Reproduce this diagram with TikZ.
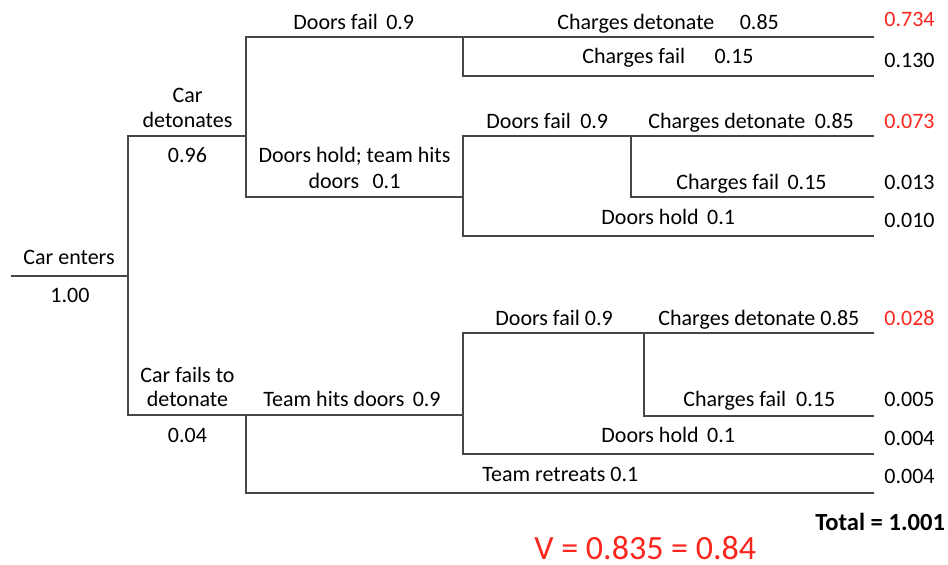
\documentclass[tikz,border=0pt]{standalone}
\usepackage{fontspec}
\setmainfont{Carlito}
\definecolor{outred}{RGB}{250,38,30}
\definecolor{branch}{RGB}{70,70,70}
\tikzset{
  branchline/.style={draw=branch, line width=1pt},
  lbl/.style={inner sep=0pt, font=\fontsize{11}{13}\selectfont, text=black},
  lblw/.style={lbl, anchor=base west},
  lblc/.style={lbl, anchor=base},
  outcome/.style={lblw},
  hot/.style={lblw, text=outred}
}
\begin{document}
\begin{tikzpicture}[x=0.5pt,y=-0.5pt]
\useasboundingbox (0,0) rectangle (948,565);

% ---- branch points ----
\coordinate (r0) at (11,276);  \coordinate (r1) at (128,276);
\coordinate (a0) at (128,136); \coordinate (a1) at (246,136);
\coordinate (b0) at (128,415); \coordinate (b1) at (246,415);
% car detonates subtree
\coordinate (c0) at (246,37);  \coordinate (c1) at (463,37);  \coordinate (c2) at (874,37);
\coordinate (c3) at (463,76);  \coordinate (c4) at (874,76);
\coordinate (d0) at (246,197); \coordinate (d1) at (463,197);
\coordinate (e0) at (463,136); \coordinate (e1) at (631,136); \coordinate (e2) at (874,136);
\coordinate (e3) at (631,197); \coordinate (e4) at (874,197);
\coordinate (f0) at (463,236); \coordinate (f1) at (874,236);
% car fails subtree
\coordinate (g1) at (463,415);
\coordinate (h0) at (463,333); \coordinate (h1) at (644,333); \coordinate (h2) at (874,333);
\coordinate (h3) at (644,416); \coordinate (h4) at (874,416);
\coordinate (i0) at (463,454); \coordinate (i1) at (874,454);
\coordinate (j0) at (246,493); \coordinate (j1) at (874,493);

% ---- branches ----
\draw[branchline] (r0) -- (r1);
\draw[branchline] (a1) -- (a0) -- (b0) -- (b1);
\draw[branchline] (c2) -- (c0) -- (d0) -- (d1);
\draw[branchline] (c1) -- (c3) -- (c4);
\draw[branchline] (e2) -- (e0) -- (f0) -- (f1);
\draw[branchline] (e1) -- (e3) -- (e4);
\draw[branchline] (b1) -- (g1);
\draw[branchline] (b1) -- (j0) -- (j1);
\draw[branchline] (h2) -- (h0) -- (i0) -- (i1);
\draw[branchline] (h1) -- (h3) -- (h4);

% ---- labels ----
\node[lblw] (tEnter) at (23,265) {Car enters};
\node[lblw] (pEnter) at (50,303) {1.00};
\node[lblc] (tDetA) at (187.5,103) {Car};
\node[lblc] (tDetB) at (187.5,128) {detonates};
\node[lblc] (pDet) at (187.5,163) {0.96};
\node[lblc] (tFailA) at (187.5,383) {Car fails to};
\node[lblc] (tFailB) at (187.5,407) {detonate};
\node[lblc] (pFail) at (187.5,443) {0.04};

\node[lblw] (tDF1) at (293,30) {Doors fail\hspace{4.2pt}0.9};
\node[lblc] (tDHa) at (354.5,163) {Doors hold; team hits};
\node[lblc] (tDHb) at (354.5,189) {doors\hspace{6.7pt}0.1};
\node[lblw] (tTH) at (263,407) {Team hits doors\hspace{4.2pt}0.9};

\node[lblw] (tCD1) at (557,30) {Charges detonate\hspace{12.7pt}0.85};
\node[lblw] (tCF1) at (582,64) {Charges fail\hspace{14.7pt}0.15};
\node[lblw] (tDF2) at (486,129) {Doors fail\hspace{4.7pt}0.9};
\node[lblw] (tCD2) at (648,129) {Charges detonate\hspace{4.7pt}0.85};
\node[lblw] (tCF2) at (676,190) {Charges fail\hspace{4.2pt}0.15};
\node[lblw] (tDH2) at (601,225) {Doors hold\hspace{4.2pt}0.1};
\node[lblw] (tDF3) at (495,326) {Doors fail 0.9};
\node[lblw] (tCD3) at (658,326) {Charges detonate 0.85};
\node[lblw] (tCF3) at (683,407) {Charges fail\hspace{5pt}0.15};
\node[lblw] (tDH3) at (601,443) {Doors hold\hspace{4.2pt}0.1};
\node[lblw] (tTR) at (482,482) {Team retreats 0.1};

% ---- outcome probabilities ----
\node[hot] (o1) at (884,27) {0.734};
\node[outcome] (o2) at (884,68) {0.130};
\node[hot] (o3) at (884,129) {0.073};
\node[outcome] (o4) at (884,190) {0.013};
\node[outcome] (o5) at (884,228) {0.010};
\node[hot] (o6) at (884,326) {0.028};
\node[outcome] (o7) at (884,407) {0.005};
\node[outcome] (o8) at (884,446) {0.004};
\node[outcome] (o9) at (884,484) {0.004};

\node[lblw, font=\fontsize{12.3}{14}\selectfont\bfseries] (total) at (815,531) {Total = 1.001};
\node[lblw, text=outred, font=\fontsize{17}{20}\selectfont] (value) at (534,560) {V = 0.835 = 0.84};
\end{tikzpicture}
\end{document}
